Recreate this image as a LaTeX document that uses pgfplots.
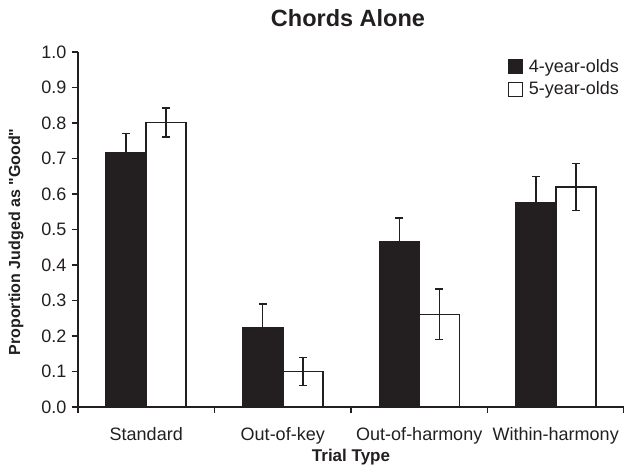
\documentclass[border=0pt]{standalone}
\usepackage{pgfplots}
\pgfplotsset{compat=1.18}
\usepackage{fontspec}
\setmainfont{Liberation Sans}
\definecolor{barblack}{HTML}{231F20}
\begin{document}
\begin{tikzpicture}
\useasboundingbox (-78pt,-66pt) rectangle (546pt,407pt);
\begin{axis}[
  at={(0pt,0pt)}, anchor=south west,
  scale only axis, width=546pt, height=355pt,
  xmin=-0.5, xmax=3.5, ymin=0, ymax=1,
  axis x line=bottom, axis y line=left,
  axis line style={-, line width=1.2pt, barblack},
  ybar=0pt, bar width=40pt,
  xtick={-0.5,0.5,1.5,2.5,3.5},
  x tick label as interval,
  xticklabels={Standard,Out-of-key,Out-of-harmony,Within-harmony},
  ytick={0,0.1,0.2,0.3,0.4,0.5,0.6,0.7,0.8,0.9,1.0},
  tick style={line width=1.2pt, barblack},
  tick align=outside, major tick length=6pt,
  tick label style={font=\fontsize{18}{20}\selectfont, text=barblack},
  yticklabel style={/pgf/number format/.cd, fixed, fixed zerofill, precision=1, assume math mode=true, /tikz/.cd, xshift=-2pt},
  xticklabel style={yshift=-11pt},
  title={Chords Alone},
  title style={at={(axis description cs:0.5,1)}, anchor=center, yshift=28pt, xshift=-3pt, font=\bfseries\fontsize{23.5}{26}\selectfont, text=barblack},
  xlabel={Trial Type},
  xlabel style={at={(axis description cs:0.5,0)}, anchor=center, yshift=-50pt, font=\bfseries\fontsize{17}{20}\selectfont, text=barblack},
  ylabel={Proportion Judged as \textquotedbl Good\textquotedbl},
  ylabel style={at={(axis description cs:-0.1136,0.465)}, anchor=center, font=\bfseries\fontsize{16}{19}\selectfont, text=barblack},
  legend style={at={(1,1)}, anchor=north east, yshift=-5pt, xshift=-3pt, draw=none, fill=none, font=\fontsize{18}{20}\selectfont, row sep=4pt, text=barblack, inner sep=0pt, nodes={inner sep=2pt}},
  legend cell align=left,
  legend image code/.code={\draw[#1, line width=1pt] (0pt,-7pt) rectangle (14pt,7pt); \path (18pt,0pt);},
  error bars/error bar style={line width=1.5pt, barblack},
  error bars/error mark options={rotate=90, mark size=4pt, line width=1.5pt, barblack},
]
\addplot[draw=barblack, fill=barblack, line width=1.5pt,
  error bars/.cd, y dir=plus, y explicit]
  coordinates {(0,0.717) +- (0,0.054) (1,0.224) +- (0,0.066) (2,0.466) +- (0,0.067) (3,0.575) +- (0,0.074)};
\addlegendentry{4-year-olds}
\addplot[draw=barblack, fill=white, line width=1.5pt,
  error bars/.cd, y dir=both, y explicit]
  coordinates {(0,0.801) +- (0,0.041) (1,0.100) +- (0,0.040) (2,0.261) +- (0,0.071) (3,0.620) +- (0,0.066)};
\addlegendentry{5-year-olds}
\end{axis}
\end{tikzpicture}
\end{document}
